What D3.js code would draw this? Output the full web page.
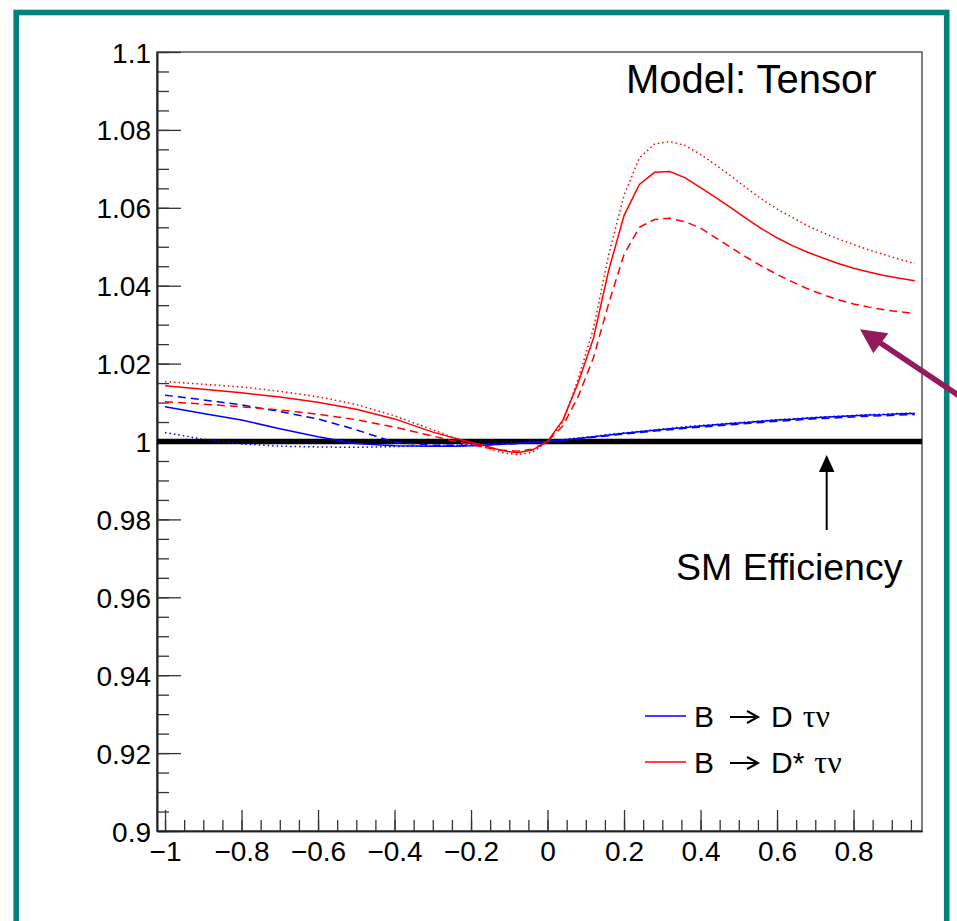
<!DOCTYPE html>
<html>
<head>
<meta charset="utf-8">
<style>
body { margin: 0; background: #fff; }
svg { display: block; }
.tick text { font-family: 'Liberation Sans', Arial, sans-serif; font-size: 28px; fill: #000; }
.lbl { font-family: 'Liberation Sans', Arial, sans-serif; fill: #000; }
</style>
</head>
<body>
<svg></svg>
<script src="https://d3js.org/d3.v7.min.js"></script>
<script>

// x positions of the sampled points
const xs = [-1, -0.9, -0.8, -0.7, -0.6, -0.5, -0.4, -0.3, -0.24, -0.2, -0.16, -0.12, -0.08, -0.04, 0,
    0.04, 0.08, 0.12, 0.16, 0.2, 0.24, 0.28, 0.32, 0.36, 0.4, 0.44, 0.48, 0.52, 0.56, 0.6, 0.64,
    0.68, 0.72, 0.76, 0.8, 0.84, 0.88, 0.92, 0.96];

// B -> D tau nu
const blueSolid = [1.0089, 1.0072, 1.0055, 1.0033, 1.0012, 0.9995, 0.9989, 0.9988, 0.9988, 0.9989, 0.9991, 0.9993, 0.9995, 0.9998, 1.0,
    1.0004, 1.0008, 1.0012, 1.0017, 1.0021, 1.0025, 1.0029, 1.0033, 1.0036, 1.0040, 1.0043, 1.0046, 1.0049, 1.0052, 1.0055, 1.0057,
    1.0060, 1.0062, 1.0064, 1.0066, 1.0068, 1.0069, 1.0071, 1.0072];
const blueDashed = [1.0119, 1.0107, 1.0094, 1.0077, 1.0058, 1.0030, 0.9998, 0.9991, 0.9990, 0.9990, 0.9991, 0.9993, 0.9995, 0.9998, 1.0,
    1.0003, 1.0007, 1.0011, 1.0015, 1.0019, 1.0023, 1.0027, 1.0030, 1.0034, 1.0037, 1.0040, 1.0043, 1.0046, 1.0049, 1.0052, 1.0054,
    1.0057, 1.0059, 1.0061, 1.0063, 1.0065, 1.0066, 1.0068, 1.0069];
const blueDotted = [1.0023, 1.0006, 0.9994, 0.9988, 0.9986, 0.9985, 0.9987, 0.9989, 0.9991, 0.9993, 0.9995, 0.9997, 0.9999, 1.0, 1.0,
    1.0005, 1.0009, 1.0013, 1.0018, 1.0022, 1.0026, 1.0030, 1.0034, 1.0038, 1.0041, 1.0044, 1.0047, 1.0050, 1.0053, 1.0056, 1.0058,
    1.0061, 1.0063, 1.0065, 1.0067, 1.0069, 1.0070, 1.0072, 1.0073];

// B -> D* tau nu
const redSolid = [1.0143, 1.0134, 1.0125, 1.0114, 1.0101, 1.0083, 1.0058, 1.0024, 1.0008, 0.9998, 0.9988, 0.9977, 0.9971, 0.9978, 1.0,
    1.0055, 1.0150, 1.0265, 1.0440, 1.0580, 1.0660, 1.0691, 1.0693, 1.0677, 1.0652, 1.0626, 1.0600, 1.0572, 1.0546, 1.0523, 1.0503,
    1.0486, 1.0471, 1.0457, 1.0445, 1.0435, 1.0426, 1.0419, 1.0413];
const redDashed = [1.0102, 1.0096, 1.0089, 1.0081, 1.0070, 1.0056, 1.0037, 1.0014, 1.0000, 0.9992, 0.9984, 0.9978, 0.9975, 0.9980, 1.0,
    1.0040, 1.0115, 1.0215, 1.0355, 1.0480, 1.0550, 1.0570, 1.0573, 1.0564, 1.0548, 1.0523, 1.0498, 1.0473, 1.0450, 1.0429, 1.0410,
    1.0392, 1.0377, 1.0364, 1.0353, 1.0345, 1.0338, 1.0333, 1.0329];
const redDotted = [1.0154, 1.0147, 1.0140, 1.0129, 1.0115, 1.0095, 1.0066, 1.0030, 1.0008, 0.9995, 0.9984, 0.9972, 0.9966, 0.9972, 1.0,
    1.0050, 1.0160, 1.0290, 1.0480, 1.0632, 1.0728, 1.0764, 1.0770, 1.0760, 1.0737, 1.0710, 1.0681, 1.0651, 1.0622, 1.0597, 1.0575,
    1.0554, 1.0536, 1.0520, 1.0506, 1.0492, 1.0480, 1.0468, 1.0457];

const xMajor = [-1, -0.8, -0.6, -0.4, -0.2, 0, 0.2, 0.4, 0.6, 0.8];
const xLabels = ['\u22121', '\u22120.8', '\u22120.6', '\u22120.4', '\u22120.2', '0', '0.2', '0.4', '0.6', '0.8'];
const yMajor = [0.9, 0.92, 0.94, 0.96, 0.98, 1, 1.02, 1.04, 1.06, 1.08, 1.1];
const yLabels = ['0.9', '0.92', '0.94', '0.96', '0.98', '1', '1.02', '1.04', '1.06', '1.08', '1.1'];

const legendMeson = ['D', 'D*'];
const legendColors = ['#0000ff', '#ff0000'];

const width = 957;
const height = 921;

const svg = d3.select('svg')
    .attr('width', width)
    .attr('height', height);

// outer teal frame
svg.append('rect')
    .attr('x', 16.2).attr('y', 12.5)
    .attr('width', 930.5).attr('height', 1000)
    .attr('fill', 'none')
    .attr('stroke', '#05807a')
    .attr('stroke-width', 5.6);

const x = d3.scaleLinear().domain([-1.021, 0.979]).range([157, 922]);
const y = d3.scaleLinear().domain([0.9, 1.1]).range([831, 52]);

const xMinor = d3.range(-20, 20).map(i => i * 0.05).filter(v => v >= -1.0001 && v <= 0.96);
const yMinor = d3.range(0, 41).map(i => 0.9 + i * 0.005);

// frame
svg.append('rect')
    .attr('x', x.range()[0]).attr('y', y.range()[1])
    .attr('width', x.range()[1] - x.range()[0])
    .attr('height', y.range()[0] - y.range()[1])
    .attr('fill', 'none')
    .attr('stroke', '#555')
    .attr('stroke-width', 1.5);

// y axis
svg.append('g')
    .attr('transform', `translate(${x.range()[0]},0)`)
    .call(d3.axisLeft(y).tickValues(yMinor).tickSize(-12).tickSizeOuter(0).tickFormat(''));
const yAxis = svg.append('g')
    .attr('transform', `translate(${x.range()[0]},0)`)
    .call(d3.axisLeft(y).tickValues(yMajor).tickSize(-24).tickSizeOuter(0).tickPadding(6)
        .tickFormat((d, i) => yLabels[i]));

// x axis
svg.append('g')
    .attr('transform', `translate(0,${y.range()[0]})`)
    .call(d3.axisBottom(x).tickValues(xMinor).tickSize(-11).tickSizeOuter(0).tickFormat(''));
const xAxis = svg.append('g')
    .attr('transform', `translate(0,${y.range()[0]})`)
    .call(d3.axisBottom(x).tickValues(xMajor).tickSize(-21).tickSizeOuter(0).tickPadding(9)
        .tickFormat((d, i) => xLabels[i]));

svg.selectAll('.domain').attr('stroke', '#222').attr('stroke-width', 1.6);
svg.selectAll('.tick line').attr('stroke', '#333').attr('stroke-width', 1.3);
yAxis.selectAll('.tick text').attr('dy', '0.36em');
xAxis.selectAll('.tick text').attr('dy', '0.75em');

// SM reference line
svg.append('line')
    .attr('x1', x.range()[0]).attr('x2', x.range()[1])
    .attr('y1', y(1)).attr('y2', y(1))
    .attr('stroke', '#000')
    .attr('stroke-width', 5.5);

const line = d3.line()
    .x((d, i) => x(xs[i]))
    .y(d => y(d));

const curves = [
    {values: blueDotted, color: '#0000ff', dash: '1.5,3'},
    {values: blueDashed, color: '#0000ff', dash: '8,5'},
    {values: blueSolid, color: '#0000ff', dash: null},
    {values: redDotted, color: '#ff0000', dash: '1.5,3'},
    {values: redDashed, color: '#ff0000', dash: '8,5'},
    {values: redSolid, color: '#ff0000', dash: null},
];

svg.append('g').attr('class', 'curves')
    .selectAll('path').data(curves)
    .enter().append('path')
        .attr('d', d => line(d.values))
        .attr('fill', 'none')
        .attr('stroke', d => d.color)
        .attr('stroke-width', 1.5)
        .attr('stroke-dasharray', d => d.dash);

// labels
svg.append('text').attr('class', 'lbl')
    .attr('x', 626).attr('y', 93)
    .style('font-size', '40px')
    .text('Model: Tensor');

svg.append('text').attr('class', 'lbl')
    .attr('x', 676).attr('y', 580)
    .style('font-size', '37.5px')
    .text('SM Efficiency');

// SM arrow
svg.append('line')
    .attr('x1', 826.7).attr('x2', 826.7)
    .attr('y1', 530).attr('y2', 468)
    .attr('stroke', '#000').attr('stroke-width', 2);
svg.append('path')
    .attr('d', 'M826.7,455 L834.5,472 L818.9,472 Z')
    .attr('fill', '#000');

// purple pointer arrow
svg.append('line')
    .attr('x1', 876).attr('y1', 340)
    .attr('x2', 1010).attr('y2', 430)
    .attr('stroke', '#931a5d').attr('stroke-width', 5.5);
svg.append('path')
    .attr('d', 'M860,329.3 L873.3,353.3 L888.3,333.3 Z')
    .attr('fill', '#931a5d');

// legend
const legend = svg.append('g').attr('class', 'legend');
legendMeson.forEach((meson, i) => {
    const ly = 716 + i * 46;
    const base = ly + 10.5;
    legend.append('line')
        .attr('x1', 645).attr('x2', 686)
        .attr('y1', ly).attr('y2', ly)
        .attr('stroke', legendColors[i]).attr('stroke-width', 1.5);
    legend.append('text').attr('class', 'lbl')
        .attr('x', 694).attr('y', base)
        .style('font-size', '30px')
        .text('B');
    // thin arrow
    legend.append('line')
        .attr('x1', 730).attr('x2', 755)
        .attr('y1', ly + 1).attr('y2', ly + 1)
        .attr('stroke', '#000').attr('stroke-width', 2);
    legend.append('path')
        .attr('d', `M747,${ly - 5} L758,${ly + 1} L747,${ly + 7}`)
        .attr('fill', 'none')
        .attr('stroke', '#000').attr('stroke-width', 2);
    const mt = legend.append('text').attr('class', 'lbl')
        .attr('x', 771).attr('y', base)
        .style('font-size', '30px')
        .text(meson);
    const mw = mt.node().getComputedTextLength();
    legend.append('text')
        .attr('x', 771 + mw + 10).attr('y', base)
        .style('font-family', "'Liberation Serif', 'DejaVu Serif', serif")
        .style('font-size', '32px')
        .text('\u03c4\u03bd');
});

</script>
</body>
</html>
